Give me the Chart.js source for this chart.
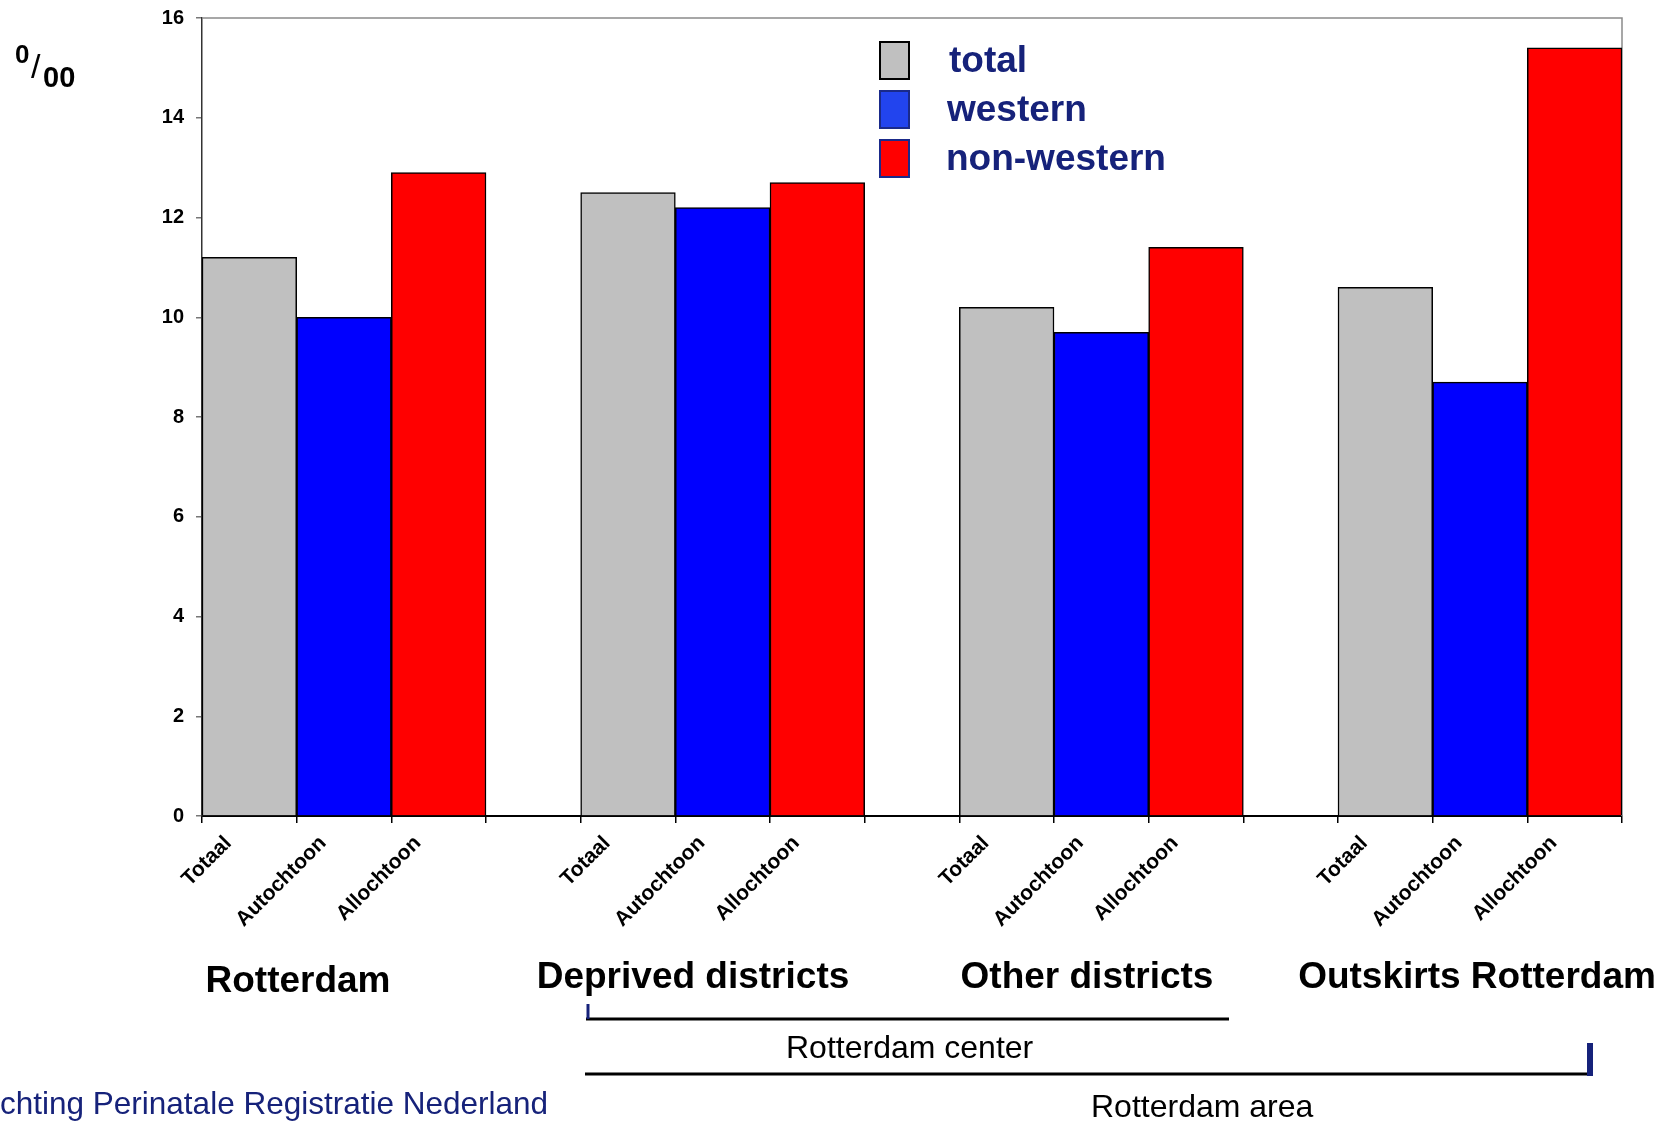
<!DOCTYPE html>
<html>
<head>
<meta charset="utf-8">
<script src="https://cdn.jsdelivr.net/npm/chart.js@4/dist/chart.umd.min.js"></script>
<style>
  html, body { margin: 0; padding: 0; background: #fff; overflow: hidden; }
  canvas { display: block; }
</style>
</head>
<body>
<canvas id="chart" width="1666" height="1121"></canvas>
<script>
// Perinatal mortality per 1000 births, by area and origin
const groupNames = ['Rotterdam', 'Deprived districts', 'Other districts', 'Outskirts Rotterdam'];
const barLabels = ['Totaal', 'Autochtoon', 'Allochtoon'];
const seriesNames = ['total', 'western', 'non-western'];
const totalValues = [11.2, 12.5, 10.2, 10.6];
const westernValues = [10.0, 12.2, 9.7, 8.7];
const nonWesternValues = [12.9, 12.7, 11.4, 15.4];
const yMin = 0, yMax = 16, yStep = 2;
const spanLabels = ['Rotterdam center', 'Rotterdam area'];
const sourceText = 'Stichting Perinatale Registratie Nederland';

const FONT = "'Liberation Sans', Arial, Helvetica, sans-serif";
const NAVY = '#16227a';

// three bars per group, an empty slot between groups
const categories = [];
groupNames.forEach((g, i) => {
  categories.push(...barLabels);
  if (i < groupNames.length - 1) categories.push('');
});
function place(values, slot) {
  const out = new Array(categories.length).fill(null);
  values.forEach((v, g) => { out[g * 4 + slot] = v; });
  return out;
}

const annotations = {
  id: 'annotations',
  beforeDatasetsDraw(chart) {
    const { ctx, chartArea: a } = chart;
    ctx.save();
    ctx.strokeStyle = '#8a8a8a';
    ctx.lineWidth = 1.5;
    ctx.beginPath();
    ctx.moveTo(a.left, a.top);
    ctx.lineTo(a.right, a.top);
    ctx.lineTo(a.right, a.bottom);
    ctx.stroke();
    ctx.restore();
  },
  afterDraw(chart) {
    const { ctx } = chart;
    ctx.save();
    ctx.textBaseline = 'alphabetic';

    // unit: per mille
    ctx.fillStyle = '#000';
    ctx.textAlign = 'left';
    ctx.font = `bold 26px ${FONT}`;
    ctx.fillText('0', 15, 63);
    ctx.font = `34px ${FONT}`;
    ctx.fillText('/', 31, 78);
    ctx.font = `bold 29px ${FONT}`;
    ctx.fillText('00', 43, 87);

    // legend
    const boxBorders = ['#000', '#1a2a8a', '#1a2a8a'];
    const boxFills = ['#c0c0c0', '#2244ee', '#ff0000'];
    chart.data.datasets.forEach((ds, i) => {
      const top = 42 + i * 49;
      ctx.fillStyle = boxFills[i];
      ctx.fillRect(880, top, 29, 37);
      ctx.strokeStyle = boxBorders[i];
      ctx.lineWidth = 2;
      ctx.strokeRect(880, top, 29, 37);
      ctx.fillStyle = NAVY;
      ctx.font = `bold 37px ${FONT}`;
      ctx.fillText(ds.label, 946 + (i === 0 ? 3 : i === 1 ? 1 : 0), top + 30);
    });

    // group names under the axis
    ctx.fillStyle = '#000';
    ctx.font = `bold 37px ${FONT}`;
    ctx.textAlign = 'center';
    const groupCenters = [298, 693, 1087, 1477];
    const groupBaselines = [992, 988, 988, 988];
    groupNames.forEach((g, i) => ctx.fillText(g, groupCenters[i], groupBaselines[i]));

    // brackets spanning groups
    ctx.strokeStyle = '#000';
    ctx.lineWidth = 3;
    ctx.beginPath();
    ctx.moveTo(586, 1019); ctx.lineTo(1229, 1019);
    ctx.moveTo(585, 1074); ctx.lineTo(1590, 1074);
    ctx.stroke();
    ctx.strokeStyle = NAVY;
    ctx.beginPath();
    ctx.moveTo(588, 1004); ctx.lineTo(588, 1019);
    ctx.stroke();
    ctx.lineWidth = 6;
    ctx.beginPath();
    ctx.moveTo(1590, 1043); ctx.lineTo(1590, 1076);
    ctx.stroke();

    ctx.fillStyle = '#000';
    ctx.font = `32px ${FONT}`;
    ctx.textAlign = 'left';
    ctx.fillText(spanLabels[0], 786, 1058);
    ctx.fillText(spanLabels[1], 1091, 1117);

    // source line
    ctx.fillStyle = NAVY;
    ctx.font = `31.5px ${FONT}`;
    const lead = ctx.measureText('Sti').width;
    ctx.fillText(sourceText, -lead, 1114);
    ctx.restore();
  }
};

new Chart(document.getElementById('chart'), {
  type: 'bar',
  data: {
    labels: categories,
    datasets: [
      { label: seriesNames[0], data: place(totalValues, 0), backgroundColor: '#c0c0c0' },
      { label: seriesNames[1], data: place(westernValues, 1), backgroundColor: '#0000ff' },
      { label: seriesNames[2], data: place(nonWesternValues, 2), backgroundColor: '#ff0000' }
    ]
  },
  options: {
    responsive: false,
    animation: false,
    layout: { padding: { top: 9, right: 44, left: 0, bottom: 0 } },
    datasets: {
      bar: {
        grouped: false,
        barPercentage: 1,
        categoryPercentage: 1,
        borderColor: '#000',
        borderWidth: 1.5
      }
    },
    plugins: { legend: { display: false }, tooltip: { enabled: false } },
    scales: {
      x: {
        offset: true,
        grid: { display: true, drawOnChartArea: false, drawTicks: true, tickLength: 7, color: '#000', lineWidth: 1.5, offset: true },
        border: { display: true, color: '#000', width: 2 },
        ticks: {
          autoSkip: false,
          minRotation: 45,
          maxRotation: 45,
          color: '#000',
          font: { family: FONT, size: 21, weight: 'bold' },
          padding: 8,
          labelOffset: -21
        },
        afterFit(scale) { scale.height = 305; }
      },
      y: {
        min: yMin,
        max: yMax,
        ticks: {
          stepSize: yStep,
          color: '#000',
          padding: 12,
          font: { family: FONT, size: 20, weight: 'bold', lineHeight: 0.6 }
        },
        grid: { drawOnChartArea: false, drawTicks: true, tickLength: 6, color: '#777', lineWidth: 1.5 },
        border: { display: true, color: '#333', width: 1.5 },
        afterFit(scale) { scale.width = 202; }
      }
    }
  },
  plugins: [annotations]
});
</script>
</body>
</html>
